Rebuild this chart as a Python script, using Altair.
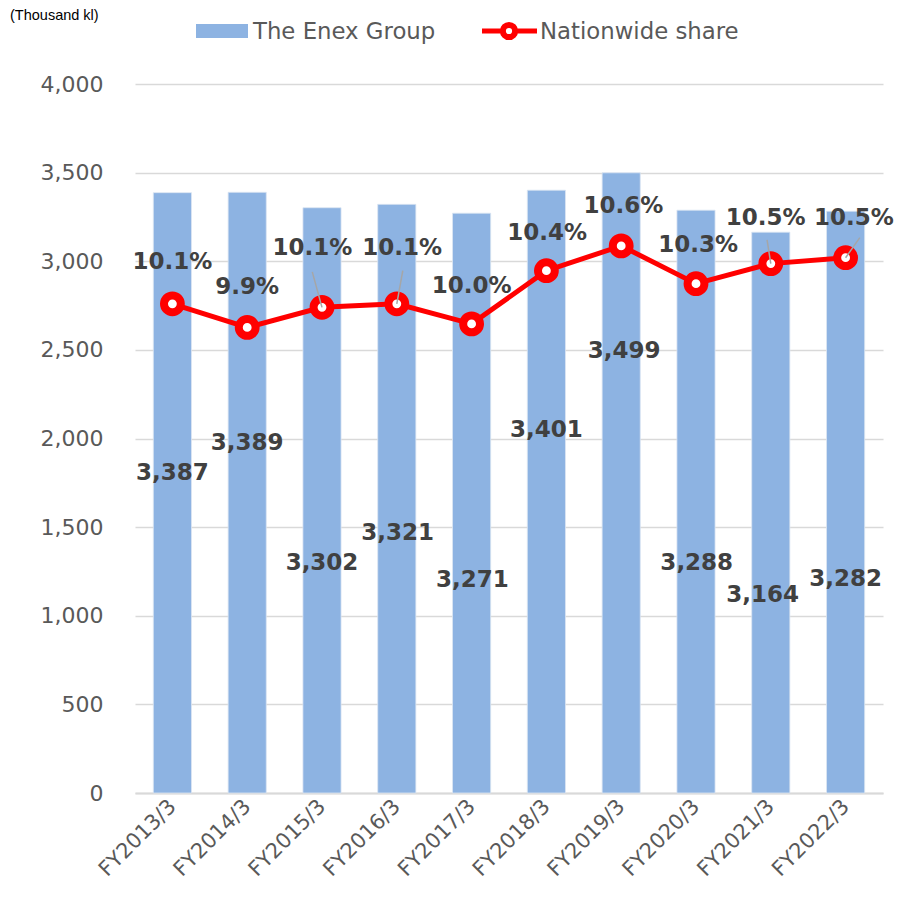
import json
import altair as alt
import pandas as pd

# ---------------- data ----------------
categories = ["FY2013/3", "FY2014/3", "FY2015/3", "FY2016/3", "FY2017/3",
              "FY2018/3", "FY2019/3", "FY2020/3", "FY2021/3", "FY2022/3"]
enex_volume = [3387, 3389, 3302, 3321, 3271, 3401, 3499, 3288, 3164, 3282]
nationwide_share = [10.14, 9.94, 10.11, 10.14, 9.97, 10.42, 10.63, 10.31, 10.48, 10.53]
share_labels = ["10.1%", "9.9%", "10.1%", "10.1%", "10.0%", "10.4%", "10.6%", "10.3%", "10.5%", "10.5%"]
y_ticks = [0, 500, 1000, 1500, 2000, 2500, 3000, 3500, 4000]

# ---------------- label layout (manual placement as in the reference) ----------------
bar_label_y = [1805, 1975, 1298, 1467, 1202, 2048, 2494, 1298, 1117, 1207]
bar_label_dx = [0, 0, 0, 0.01, 0.01, 0, 0.04, 0.01, -0.11, 0]
share_label_y = [10.49, 10.28, 10.61, 10.61, 10.29, 10.74, 10.97, 10.64, 10.87, 10.87]
share_label_dx = [0, 0, -0.13, 0.07, 0, 0.01, 0.03, 0.03, -0.07, 0.11]
leader_idx = [2, 3, 8, 9]
leader_end_dx = [-0.13, 0.08, -0.05, 0.19]
leader_end_y = [10.41, 10.42, 10.68, 10.70]

BAR_HALF = 0.255
BAR_COLOR = "#8DB3E2"
RED = "#FF0000"
LABEL_COLOR = "#404040"
AXIS_TEXT = "#595959"
GRID = "#D9D9D9"
FONT = "DejaVu Sans"

n = len(categories)
df = pd.DataFrame({
    "idx": list(range(n)),
    "cat": categories,
    "value": enex_volume,
    "share": nationwide_share,
    "share_text": share_labels,
})
df["x0"] = df["idx"] - BAR_HALF
df["x1"] = df["idx"] + BAR_HALF
df["value_text"] = [f"{v:,}" for v in enex_volume]
df["bl_y"] = bar_label_y
df["bl_x"] = df["idx"] + pd.Series(bar_label_dx)
df["sl_y"] = share_label_y
df["sl_x"] = df["idx"] + pd.Series(share_label_dx)

lead = pd.DataFrame({
    "idx": leader_idx,
    "share": [nationwide_share[i] for i in leader_idx],
    "lx": [i + d for i, d in zip(leader_idx, leader_end_dx)],
    "ly": leader_end_y,
})

x_scale = alt.Scale(domain=[-0.5, n - 0.5], nice=False, zero=False)
label_expr = json.dumps(categories) + "[datum.value]"
x_axis = alt.Axis(values=list(range(n)), labelExpr=label_expr, title=None,
                  grid=False, ticks=False, domain=True, domainColor=GRID, domainWidth=2,
                  labelAngle=-45, labelAlign="right", labelBaseline="middle",
                  labelOverlap=False, labelBound=False, labelFlush=False,
                  labelFontSize=21, labelColor=AXIS_TEXT, labelFont=FONT, labelPadding=10)
y_scale = alt.Scale(domain=[0, 4000], nice=False)
y_axis = alt.Axis(values=y_ticks, labelExpr="format(datum.value, ',')", title=None,
                  grid=True, gridColor=GRID, gridWidth=1.5, ticks=False, domain=False,
                  labelOverlap=False, labelFlush=False,
                  labelFontSize=22, labelColor=AXIS_TEXT, labelFont=FONT, labelPadding=32)
s_scale = alt.Scale(domain=[6, 12], nice=False, zero=False)

base = alt.Chart(df)

def X(field):
    return alt.X(field, type="quantitative", scale=x_scale, axis=x_axis)

def YL(field):
    return alt.Y(field, type="quantitative", scale=y_scale, axis=y_axis)

def YS(field):
    return alt.Y(field, type="quantitative", scale=s_scale, axis=None)

bars = base.mark_bar(color=BAR_COLOR, stroke="#DCE6F2", strokeWidth=0.8).encode(
    x=X("x0"), x2="x1:Q", y=YL("value"), y2=alt.datum(0),
)
bar_text = base.mark_text(font=FONT, fontSize=23, fontWeight="bold", color=LABEL_COLOR,
                          baseline="middle", align="center").encode(
    x=X("bl_x"), y=YL("bl_y"), text="value_text:N",
)
left = alt.layer(bars, bar_text)

line = base.mark_line(color=RED, strokeWidth=5).encode(x=X("idx"), y=YS("share"))
pts = base.mark_point(shape="circle", filled=False, fill="white", fillOpacity=1,
                      stroke=RED, strokeWidth=8, size=283, opacity=1).encode(
    x=X("idx"), y=YS("share"))
leaders = alt.Chart(lead).mark_rule(color="#A6A6A6", strokeWidth=1.5).encode(
    x=X("idx"), y=YS("share"), x2="lx:Q", y2="ly:Q")
share_text = base.mark_text(font=FONT, fontSize=23, fontWeight="bold", color=LABEL_COLOR,
                            baseline="middle", align="center").encode(
    x=X("sl_x"), y=YS("sl_y"), text="share_text:N")
right = alt.layer(line, pts, leaders, share_text)

# ---------------- manual legend & unit note ----------------
one = alt.Chart(pd.DataFrame({"k": [0]}))
leg_rect = one.mark_rect(color=BAR_COLOR).encode(
    x=alt.value(61), x2=alt.value(113), y=alt.value(-60), y2=alt.value(-46))
leg_text1 = one.mark_text(text="The Enex Group", font=FONT, fontSize=22.8, color=AXIS_TEXT,
                          align="left", baseline="middle").encode(
    x=alt.value(118), y=alt.value(-52))
leg_line = one.mark_rule(color=RED, strokeWidth=5).encode(
    x=alt.value(347), x2=alt.value(402), y=alt.value(-53))
leg_pt = one.mark_point(shape="circle", filled=False, fill="white", fillOpacity=1,
                        stroke=RED, strokeWidth=6, size=150, opacity=1).encode(
    x=alt.value(374), y=alt.value(-53))
leg_text2 = one.mark_text(text="Nationwide share", font=FONT, fontSize=22.8, color=AXIS_TEXT,
                          align="left", baseline="middle").encode(
    x=alt.value(405), y=alt.value(-52))
unit = one.mark_text(text="(Thousand kl)", font="Liberation Sans", fontSize=14.5, color="#000000",
                     align="left", baseline="middle").encode(
    x=alt.value(-125), y=alt.value(-68))
legend = alt.layer(leg_rect, leg_text1, leg_line, leg_pt, leg_text2, unit)

chart = alt.layer(left, right, legend).resolve_scale(y="independent").properties(
    width=748, height=709,
    background="white",
    autosize=alt.AutoSizeParams(type="none"),
    padding={"left": 127, "top": 76, "right": 12, "bottom": 88},
).configure_view(stroke="transparent", strokeWidth=0)

chart.save("out.html", embed_options={"renderer": "svg", "actions": False})
